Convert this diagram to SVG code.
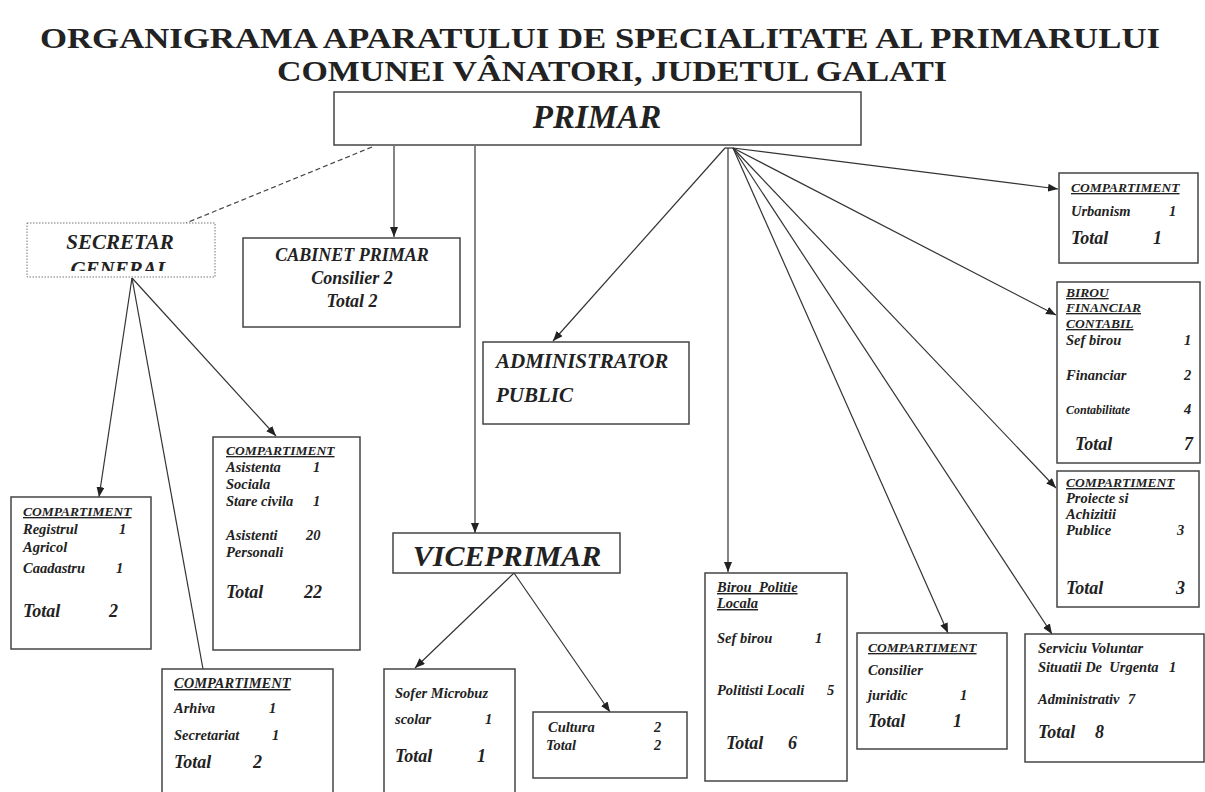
<svg xmlns="http://www.w3.org/2000/svg" width="1205" height="792" viewBox="0 0 1205 792">
<defs>
<marker id="ah" markerWidth="10" markerHeight="8" refX="10" refY="4" orient="auto" markerUnits="userSpaceOnUse">
<path d="M0,0 L10,4 L0,8 Z" fill="#222"/>
</marker>
<clipPath id="secclip"><rect x="20" y="220" width="200" height="51"/></clipPath>
</defs>
<style>
.bg{fill:#fff}
.box{fill:#fff;stroke:#444;stroke-width:1.5}
.dot{fill:#fff;stroke:#777;stroke-width:1;stroke-dasharray:1.5 1.5}
.ln{stroke:#333;stroke-width:1.2;fill:none}
.arr{stroke:#333;stroke-width:1.2;fill:none;marker-end:url(#ah)}
.dash{stroke:#444;stroke-width:1.2;fill:none;stroke-dasharray:5 3}
text{font-family:"Liberation Serif","Times New Roman","DejaVu Serif",serif;font-weight:bold;font-style:italic;fill:#222}
.title{font-family:"Liberation Serif","Times New Roman","DejaVu Serif",serif;font-style:normal;font-size:30px}
.h{font-size:13.5px}
.s{font-size:14.5px}
.xs{font-size:12px}
.t{font-size:18px}
.u{text-decoration:underline}
.c{text-anchor:middle}
</style>
<rect class="bg" x="0" y="0" width="1205" height="792"/>

<g id="title">
<text class="title c" x="600" y="48" textLength="1120" lengthAdjust="spacingAndGlyphs">ORGANIGRAMA APARATULUI DE SPECIALITATE AL PRIMARULUI</text>
<text class="title c" x="612" y="81" textLength="670" lengthAdjust="spacingAndGlyphs">COMUNEI VÂNATORI, JUDETUL GALATI</text>
</g>

<g id="connectors">
<line class="dash" x1="372" y1="147" x2="186" y2="223"/>
<line class="arr" x1="394" y1="146" x2="394" y2="237"/>
<line class="arr" x1="475" y1="146" x2="475" y2="533"/>
<polyline class="ln" points="725,148 733,148"/>
<line class="arr" x1="725" y1="148" x2="553" y2="341"/>
<line class="arr" x1="728" y1="148" x2="728" y2="572"/>
<line class="arr" x1="733" y1="148" x2="1058" y2="189"/>
<line class="arr" x1="733" y1="148" x2="1056" y2="315"/>
<line class="arr" x1="733" y1="148" x2="1056" y2="488"/>
<line class="arr" x1="733" y1="148" x2="948" y2="633"/>
<line class="arr" x1="733" y1="148" x2="1052" y2="634"/>
<line class="arr" x1="132" y1="278" x2="99" y2="497"/>
<line class="ln" x1="132" y1="278" x2="203" y2="669"/>
<line class="arr" x1="132" y1="278" x2="276" y2="436"/>
<line class="arr" x1="514" y1="573" x2="415" y2="668"/>
<line class="arr" x1="514" y1="573" x2="610" y2="712"/>
</g>

<g id="primar">
<rect class="box" x="334" y="92" width="527" height="53"/>
<text class="c" x="597" y="128" style="font-size:33px">PRIMAR</text>
</g>

<g id="secretar">
<rect class="dot" x="27" y="223" width="188" height="54"/>
<text class="c" x="120" y="249" style="font-size:21px">SECRETAR</text>
<text class="c" x="120" y="276" style="font-size:21px" clip-path="url(#secclip)">GENERAL</text>
</g>

<g id="cabinet">
<rect class="box" x="243" y="238" width="217" height="89"/>
<text class="c" x="352" y="261" style="font-size:18px">CABINET PRIMAR</text>
<text class="c" x="352" y="284" style="font-size:18px">Consilier 2</text>
<text class="c" x="352" y="307" style="font-size:18px">Total 2</text>
</g>

<g id="administrator">
<rect class="box" x="483" y="342" width="206" height="82"/>
<text x="496" y="368" style="font-size:21px">ADMINISTRATOR</text>
<text x="496" y="402" style="font-size:21px">PUBLIC</text>
</g>

<g id="viceprimar">
<rect class="box" x="393" y="533" width="227" height="40"/>
<text class="c" x="507" y="566" style="font-size:30px">VICEPRIMAR</text>
</g>

<g id="registru">
<rect class="box" x="11" y="497" width="140" height="152"/>
<text class="h u" x="23" y="516">COMPARTIMENT</text>
<text class="s" x="23" y="534">Registrul</text><text class="s" x="119" y="534">1</text>
<text class="s" x="23" y="552">Agricol</text>
<text class="s" x="23" y="573">Caadastru</text><text class="s" x="116" y="573">1</text>
<text class="t" x="23" y="617">Total</text><text class="t" x="109" y="617">2</text>
</g>

<g id="asistenta">
<rect class="box" x="213" y="437" width="147" height="213"/>
<text class="h u" x="226" y="455">COMPARTIMENT</text>
<text class="s" x="226" y="472">Asistenta</text><text class="s" x="313" y="472">1</text>
<text class="s" x="226" y="489">Sociala</text>
<text class="s" x="226" y="506">Stare civila</text><text class="s" x="313" y="506">1</text>
<text class="s" x="226" y="540">Asistenti</text><text class="s" x="306" y="540">20</text>
<text class="s" x="226" y="557">Personali</text>
<text class="t" x="226" y="598">Total</text><text class="t" x="304" y="598">22</text>
</g>

<g id="arhiva">
<rect class="box" x="162" y="669" width="171" height="124"/>
<text class="s u" x="174" y="688">COMPARTIMENT</text>
<text class="s" x="174" y="713">Arhiva</text><text class="s" x="269" y="713">1</text>
<text class="s" x="174" y="740">Secretariat</text><text class="s" x="272" y="740">1</text>
<text class="t" x="174" y="768">Total</text><text class="t" x="253" y="768">2</text>
</g>

<g id="sofer">
<rect class="box" x="384" y="669" width="131" height="124"/>
<text class="s" x="395" y="698">Sofer Microbuz</text>
<text class="s" x="395" y="724">scolar</text><text class="s" x="485" y="724">1</text>
<text class="t" x="395" y="762">Total</text><text class="t" x="477" y="762">1</text>
</g>

<g id="cultura">
<rect class="box" x="533" y="712" width="154" height="66"/>
<text class="s" x="548" y="732">Cultura</text><text class="s" x="654" y="732">2</text>
<text class="s" x="546" y="750">Total</text><text class="s" x="654" y="750">2</text>
</g>

<g id="politie">
<rect class="box" x="705" y="573" width="142" height="208"/>
<text class="s u" x="717" y="592" xml:space="preserve">Birou  Politie</text>
<text class="s u" x="717" y="608">Locala</text>
<text class="s" x="717" y="643">Sef birou</text><text class="s" x="815" y="643">1</text>
<text class="s" x="717" y="695">Politisti Locali</text><text class="s" x="827" y="695">5</text>
<text class="t" x="726" y="749">Total</text><text class="t" x="788" y="749">6</text>
</g>

<g id="juridic">
<rect class="box" x="857" y="633" width="150" height="116"/>
<text class="h u" x="868" y="652">COMPARTIMENT</text>
<text class="s" x="868" y="675">Consilier</text>
<text class="s" x="868" y="700">juridic</text><text class="s" x="960" y="700">1</text>
<text class="t" x="868" y="727">Total</text><text class="t" x="953" y="727">1</text>
</g>

<g id="serviciu">
<rect class="box" x="1025" y="634" width="179" height="128"/>
<text class="s" x="1038" y="653">Serviciu Voluntar</text>
<text class="s" x="1038" y="672" xml:space="preserve">Situatii De  Urgenta</text><text class="s" x="1169" y="672">1</text>
<text class="s" x="1038" y="704">Administrativ</text><text class="s" x="1128" y="704">7</text>
<text class="t" x="1038" y="738">Total</text><text class="t" x="1095" y="738">8</text>
</g>

<g id="urbanism">
<rect class="box" x="1059" y="173" width="139" height="90"/>
<text class="h u" x="1071" y="192">COMPARTIMENT</text>
<text class="s" x="1071" y="216">Urbanism</text><text class="s" x="1169" y="216">1</text>
<text class="t" x="1071" y="244">Total</text><text class="t" x="1153" y="244">1</text>
</g>

<g id="financiar">
<rect class="box" x="1057" y="282" width="143" height="181"/>
<text class="h u" x="1066" y="297">BIROU</text>
<text class="h u" x="1066" y="312">FINANCIAR</text>
<text class="h u" x="1066" y="328">CONTABIL</text>
<text class="s" x="1066" y="345">Sef birou</text><text class="s" x="1184" y="345">1</text>
<text class="s" x="1066" y="380">Financiar</text><text class="s" x="1184" y="380">2</text>
<text class="xs" x="1066" y="414">Contabilitate</text><text class="s" x="1184" y="414">4</text>
<text class="t" x="1075" y="450">Total</text><text class="t" x="1184" y="450">7</text>
</g>

<g id="proiecte">
<rect class="box" x="1057" y="471" width="142" height="136"/>
<text class="h u" x="1066" y="487">COMPARTIMENT</text>
<text class="s" x="1066" y="503">Proiecte si</text>
<text class="s" x="1066" y="519">Achizitii</text>
<text class="s" x="1066" y="535">Publice</text><text class="s" x="1177" y="535">3</text>
<text class="t" x="1066" y="594">Total</text><text class="t" x="1176" y="594">3</text>
</g>
</svg>
